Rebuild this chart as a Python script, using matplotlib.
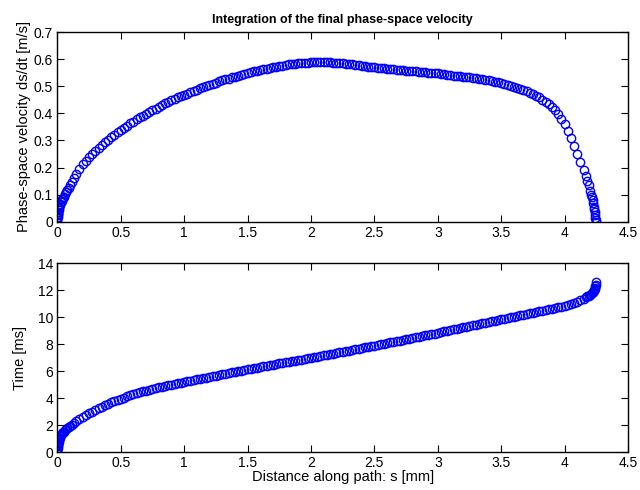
import matplotlib
matplotlib.use("Agg")
import matplotlib.pyplot as plt
from matplotlib.ticker import FuncFormatter

plt.rcParams['font.family'] = ['Liberation Sans', 'DejaVu Sans']

# distance along path [mm]
s = [0, 0.0005, 0.001, 0.002, 0.003, 0.004, 0.005, 0.007, 0.01, 0.013,
     0.016, 0.02, 0.025, 0.03, 0.035, 0.04, 0.045, 0.05, 0.06, 0.07,
     0.08, 0.09, 0.1, 0.115, 0.13, 0.15, 0.175,
     0.2, 0.225, 0.25, 0.275, 0.3, 0.325, 0.35, 0.375, 0.4, 0.425,
     0.45, 0.475, 0.5, 0.525, 0.55, 0.575, 0.6, 0.625, 0.65, 0.675,
     0.7, 0.725, 0.75, 0.775, 0.8, 0.825, 0.85, 0.875, 0.9, 0.925,
     0.95, 0.975, 1.0, 1.025, 1.05, 1.075, 1.1, 1.125, 1.15, 1.175,
     1.2, 1.225, 1.25, 1.275, 1.3, 1.325, 1.35, 1.375, 1.4, 1.425,
     1.45, 1.475, 1.5, 1.525, 1.55, 1.575, 1.6, 1.625, 1.65, 1.675,
     1.7, 1.725, 1.75, 1.775, 1.8, 1.825, 1.85, 1.875, 1.9, 1.925,
     1.95, 1.975, 2.0, 2.025, 2.05, 2.075, 2.1, 2.125, 2.15, 2.175,
     2.2, 2.225, 2.25, 2.275, 2.3, 2.325, 2.35, 2.375, 2.4, 2.425,
     2.45, 2.475, 2.5, 2.525, 2.55, 2.575, 2.6, 2.625, 2.65, 2.675,
     2.7, 2.725, 2.75, 2.775, 2.8, 2.825, 2.85, 2.875, 2.9, 2.925,
     2.95, 2.975, 3.0, 3.025, 3.05, 3.075, 3.1, 3.125, 3.15, 3.175,
     3.2, 3.225, 3.25, 3.275, 3.3, 3.325, 3.35, 3.375, 3.4, 3.425,
     3.45, 3.475, 3.5, 3.525, 3.55, 3.575, 3.6, 3.625, 3.65, 3.675,
     3.7, 3.725, 3.75, 3.775, 3.8, 3.825, 3.85, 3.875, 3.9, 3.925,
     3.95, 3.975, 4.0, 4.025, 4.05, 4.075, 4.1, 4.125, 4.15,
     4.165, 4.18, 4.19, 4.2, 4.21, 4.215, 4.22, 4.225, 4.23, 4.234,
     4.237, 4.24, 4.242, 4.244, 4.245]

# phase-space velocity ds/dt [m/s]
v = [0, 0.008, 0.012, 0.018, 0.023, 0.027, 0.03, 0.036, 0.043, 0.049,
     0.054, 0.06, 0.066, 0.072, 0.078, 0.083, 0.088, 0.093, 0.101, 0.109,
     0.117, 0.126, 0.135, 0.148, 0.161, 0.177, 0.195,
     0.212, 0.226, 0.239, 0.251, 0.262, 0.273, 0.283, 0.293, 0.303, 0.313,
     0.322, 0.331, 0.34, 0.348, 0.355, 0.363, 0.37, 0.378, 0.385, 0.392,
     0.398, 0.405, 0.411, 0.418, 0.424, 0.431, 0.437, 0.443, 0.448, 0.454,
     0.459, 0.464, 0.468, 0.473, 0.478, 0.483, 0.488, 0.493, 0.497, 0.502,
     0.506, 0.51, 0.514, 0.518, 0.522, 0.526, 0.529, 0.533, 0.536, 0.539,
     0.542, 0.546, 0.549, 0.552, 0.555, 0.558, 0.561, 0.564, 0.566, 0.569,
     0.571, 0.573, 0.575, 0.577, 0.579, 0.581, 0.582, 0.584, 0.585, 0.586,
     0.587, 0.588, 0.589, 0.59, 0.59, 0.59, 0.59, 0.59, 0.589, 0.588,
     0.587, 0.586, 0.585, 0.584, 0.582, 0.581, 0.579, 0.578, 0.576, 0.575,
     0.573, 0.572, 0.571, 0.569, 0.568, 0.567, 0.566, 0.564, 0.563, 0.562,
     0.561, 0.559, 0.558, 0.557, 0.556, 0.555, 0.554, 0.553, 0.552, 0.551,
     0.55, 0.549, 0.548, 0.546, 0.545, 0.543, 0.542, 0.54, 0.539, 0.537,
     0.536, 0.534, 0.533, 0.531, 0.53, 0.528, 0.526, 0.524, 0.522, 0.52,
     0.517, 0.515, 0.512, 0.509, 0.506, 0.503, 0.499, 0.495, 0.491, 0.487,
     0.482, 0.477, 0.471, 0.465, 0.459, 0.451, 0.443, 0.434, 0.424, 0.412,
     0.399, 0.381, 0.36, 0.336, 0.31, 0.281, 0.25, 0.221, 0.19,
     0.17, 0.15, 0.135, 0.115, 0.1, 0.09, 0.08, 0.07, 0.055, 0.045,
     0.035, 0.025, 0.015, 0.007, 0]

# time [ms]
t = [0, 0.15, 0.25, 0.35, 0.45, 0.52, 0.58, 0.68, 0.8, 0.9,
     0.98, 1.08, 1.18, 1.27, 1.35, 1.42, 1.48, 1.54, 1.63, 1.72,
     1.8, 1.88, 1.95, 2.06, 2.16, 2.29, 2.45,
     2.6, 2.74, 2.88, 3.01, 3.14, 3.26, 3.38, 3.49, 3.6, 3.7,
     3.8, 3.89, 3.98, 4.06, 4.14, 4.22, 4.3, 4.37, 4.44, 4.51,
     4.57, 4.63, 4.69, 4.75, 4.81, 4.86, 4.92, 4.97, 5.02, 5.07,
     5.12, 5.16, 5.21, 5.26, 5.31, 5.35, 5.4, 5.45, 5.5, 5.54,
     5.59, 5.64, 5.68, 5.73, 5.78, 5.82, 5.87, 5.92, 5.96, 6.01,
     6.06, 6.1, 6.15, 6.19, 6.23, 6.28, 6.32, 6.36, 6.41, 6.45,
     6.49, 6.53, 6.58, 6.62, 6.66, 6.7, 6.75, 6.79, 6.83, 6.87,
     6.92, 6.96, 7.0, 7.05, 7.09, 7.14, 7.18, 7.23, 7.27, 7.32,
     7.36, 7.41, 7.45, 7.5, 7.54, 7.59, 7.63, 7.68, 7.72, 7.77,
     7.81, 7.86, 7.9, 7.95, 8.0, 8.04, 8.09, 8.14, 8.19, 8.23,
     8.28, 8.33, 8.38, 8.42, 8.47, 8.52, 8.57, 8.61, 8.66, 8.71,
     8.76, 8.8, 8.85, 8.9, 8.95, 9.0, 9.05, 9.1, 9.15, 9.2,
     9.25, 9.3, 9.35, 9.4, 9.45, 9.5, 9.55, 9.6, 9.65, 9.7,
     9.75, 9.8, 9.85, 9.9, 9.95, 10.0, 10.05, 10.1, 10.15, 10.2,
     10.25, 10.3, 10.35, 10.4, 10.45, 10.5, 10.55, 10.6, 10.65, 10.7,
     10.75, 10.8, 10.85, 10.92, 10.99, 11.07, 11.16, 11.27, 11.39,
     11.47, 11.55, 11.61, 11.68, 11.75, 11.8, 11.85, 11.9, 11.97, 12.04,
     12.1, 12.2, 12.3, 12.42, 12.6]

assert len(s) == len(v) == len(t)

fig = plt.figure(figsize=(6.4, 4.9), dpi=100)
ax1 = fig.add_axes([0.0895, 0.5476, 0.8918, 0.3866])
ax2 = fig.add_axes([0.0895, 0.0769, 0.8918, 0.3857])

gfmt = FuncFormatter(lambda x, p: '%g' % x)

for ax, y in ((ax1, v), (ax2, t)):
    ax.plot(s, y, 'o', mfc='none', mec='b', ms=6, mew=1.0)
    ax.set_xlim(0, 4.5)
    ax.set_xticks([0, 0.5, 1, 1.5, 2, 2.5, 3, 3.5, 4, 4.5])
    ax.xaxis.set_major_formatter(gfmt)
    ax.yaxis.set_major_formatter(gfmt)
    ax.tick_params(direction='in', top=True, right=True, length=5,
                   labelsize=10, pad=3)
    for sp in ax.spines.values():
        sp.set_linewidth(1.0)

ax1.set_ylim(0, 0.7)
ax1.set_yticks([0, 0.1, 0.2, 0.3, 0.4, 0.5, 0.6, 0.7])
ax1.set_ylabel('Phase-space velocity ds/dt [m/s]', fontsize=10.5, labelpad=2)
ax1.set_title('Integration of the final phase-space velocity',
              fontsize=9, fontweight='bold', pad=7)

ax2.set_ylim(0, 14)
ax2.set_yticks([0, 2, 4, 6, 8, 10, 12, 14])
ax2.set_ylabel('Time [ms]', fontsize=10.5, labelpad=8)
ax2.set_xlabel('Distance along path: s [mm]', fontsize=10.5, labelpad=0)

fig.savefig('out.png', dpi=100)
